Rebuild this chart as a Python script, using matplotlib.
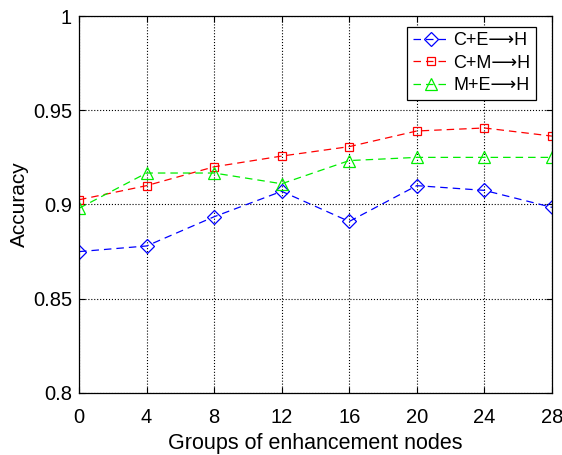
import matplotlib
matplotlib.use("Agg")
import matplotlib.pyplot as plt

plt.rcParams['font.family'] = ['Liberation Sans', 'DejaVu Sans']

groups = [0, 4, 8, 12, 16, 20, 24, 28]
ce_h = [0.875, 0.878, 0.8935, 0.907, 0.891, 0.910, 0.9075, 0.8985]
cm_h = [0.9025, 0.910, 0.920, 0.9257, 0.9307, 0.939, 0.9406, 0.9363]
me_h = [0.898, 0.9167, 0.9167, 0.911, 0.9233, 0.925, 0.925, 0.925]
labels = ['C+E\u27f6H', 'C+M\u27f6H', 'M+E\u27f6H']

fig = plt.figure(figsize=(5.62, 4.55), dpi=100)
ax = fig.add_axes([0.1406, 0.1363, 0.8414, 0.8285])

dash = (0, (6, 4))
ax.plot(groups, ce_h, color='#0000ff', linestyle=dash, linewidth=0.9, marker='D',
        markersize=7, markerfacecolor='none', markeredgewidth=0.9, label=labels[0])
ax.plot(groups, cm_h, color='#ff0000', linestyle=dash, linewidth=0.9, marker='s',
        markersize=6, markerfacecolor='none', markeredgewidth=0.9, label=labels[1])
ax.plot(groups, me_h, color='#00ee00', linestyle=dash, linewidth=0.9, marker='^',
        markersize=8, markerfacecolor='none', markeredgewidth=0.9, label=labels[2])

ax.set_xlim(0, 28)
ax.set_ylim(0.8, 1.0)
ax.set_xticks(groups)
ax.set_yticks([0.8, 0.85, 0.9, 0.95, 1.0])
ax.set_yticklabels(['0.8', '0.85', '0.9', '0.95', '1'])
ax.tick_params(direction='in', labelsize=14.5, length=4, top=True, right=True)
ax.tick_params(axis='x', pad=11)
ax.tick_params(axis='y', pad=5)
ax.grid(True, linestyle=':', color='black', linewidth=0.8)
for s in ax.spines.values():
    s.set_linewidth(0.9)
ax.set_xlabel('Groups of enhancement nodes', fontsize=15.5, labelpad=4)
ax.set_ylabel('Accuracy', fontsize=15, labelpad=3)

leg = ax.legend(loc='upper right', fontsize=13, frameon=True, fancybox=False,
                edgecolor='black', framealpha=1, borderaxespad=0.5,
                bbox_to_anchor=(0.985, 0.995),
                handlelength=2.0, labelspacing=0.3, borderpad=0.3, handletextpad=0.25)
leg.get_frame().set_linewidth(0.9)

fig.savefig('out.png', dpi=100)
